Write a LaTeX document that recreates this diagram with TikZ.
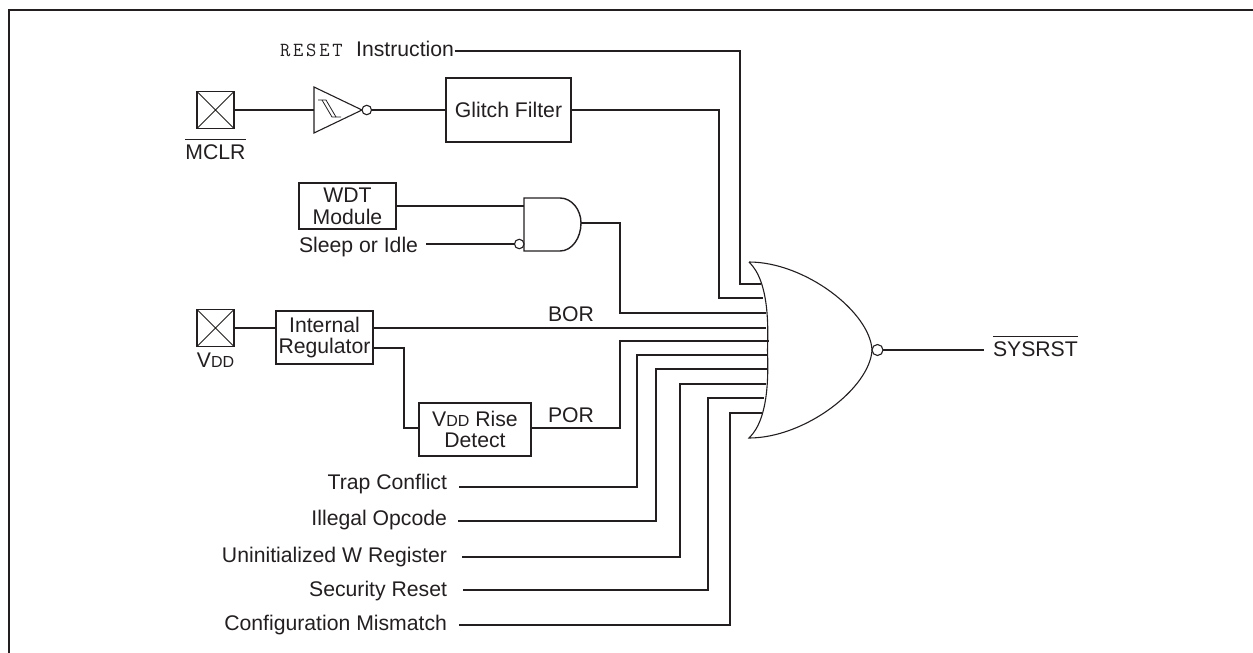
\documentclass[tikz,border=0pt]{standalone}
\usepackage{fontspec}
\setmainfont{Liberation Sans}
\newfontfamily\resetfont[LetterSpace=14]{Latin Modern Mono}
\definecolor{inkk}{HTML}{231F20}
\newcommand{\labfont}{\fontsize{21.2}{21.8}\selectfont}
\newcommand{\smallcaps}[1]{{\fontsize{16}{16}\selectfont #1}}
\newcommand{\barred}[1]{\vbox{\hrule height 1.6pt\kern 4pt\hbox{#1}}}
\tikzset{
  wire/.style={line width=1.7pt, inkk},
  gateline/.style={line width=1.1pt, inkk},
  box/.style={draw=inkk, line width=1.7pt, inner sep=0pt, outer sep=0pt, align=center, font=\labfont, text=inkk},
  lab/.style={inner sep=0pt, outer sep=0pt, font=\labfont, text=inkk},
  bubble/.style={circle, draw=inkk, line width=1.1pt, fill=white, inner sep=0pt, outer sep=0pt}
}
\begin{document}
\begin{tikzpicture}[x=1pt, y=-1pt]
\useasboundingbox (0,0) rectangle (1253,653);
\draw[line width=2.2pt, inkk] (9,653) |- (1253,10);
% pads
\foreach \nm/\yy in {mclr/110, vdd/328}{
  \node[box, minimum width=37pt, minimum height=37pt] (\nm) at (215.5,\yy) {};
  \draw[line width=0.8pt, inkk] (\nm.north west) -- (\nm.south east) (\nm.north east) -- (\nm.south west);
}
\node[lab, anchor=base] (mclrlab) at (215.5,159) {\barred{MCLR}};
\node[lab, anchor=base] (vddlab) at (215.5,367) {V\smallcaps{DD}};
% top row
\node[lab, anchor=base west] (resetlab) at (280,56) {{\resetfont\fontsize{20}{22}\selectfont RESET}};
\node[lab, anchor=base east] (instr) at (454,56) {Instruction};
\node[box, minimum width=125pt, minimum height=64pt] (glitch) at (508.5,110) {Glitch Filter};
\coordinate (invin) at (314,110);
\coordinate (invtip) at (362,110);
\draw[gateline] (invin) -- (314,87) -- (invtip) -- (314,133) -- cycle;
\draw[line width=0.8pt, inkk] (318,100) -- (326,100) -- (336,117) -- (341,117);
\draw[line width=0.8pt, inkk] (322,100) -- (332,117) -- (336,117);
\node[bubble, minimum size=9.5pt, anchor=west] (invb) at (invtip) {};
\draw[wire] (mclr.east) -- (invin);
\draw[wire] (invb.east) -- (glitch.west);
% watchdog and gate
\node[box, minimum width=97pt, minimum height=46pt] (wdt) at (347.5,206) {WDT\\Module};
\node[lab, anchor=base west] (sleep) at (299,252) {Sleep or Idle};
\coordinate (andin) at (524,206);
\coordinate (andout) at (581,223);
\coordinate (andlow) at (524,244);
\draw[line width=1.4pt, inkk] (560,198) -- (524,198) -- (524,251) -- (560,251)
  .. controls (572,251) and (581,238) .. (andout)
  .. controls (581,210) and (572,198) .. (560,198);
\node[bubble, minimum size=9.5pt, anchor=east] (andb) at (andlow) {};
\coordinate (sleepout) at (426,244);
\coordinate (wdtout) at (396,206);
\draw[wire] (wdtout) -- (andin);
\draw[wire] (sleepout) -- (andb.west);
% regulator
\node[box, minimum width=97pt, minimum height=53pt] (reg) at (324.5,337.5) {Internal\\Regulator};
\node[box, minimum width=112pt, minimum height=53pt] (rise) at (475,429.5) {V\smallcaps{DD} Rise\\Detect};
\draw[wire] (vdd.east) -- (reg.west|-vdd.east);
\node[lab, anchor=base] (borlab) at (571,321) {BOR};
\node[lab, anchor=base] (porlab) at (571,422) {POR};
% or gate
\coordinate (ortop) at (749,262);
\coordinate (orbot) at (749,438);
\coordinate (orapex) at (872,350);
\draw[gateline] (ortop) .. controls (770,282) and (768,330) .. (767.5,350)
  .. controls (768,370) and (770,418) .. (orbot)
  .. controls (805,438) and (870,388) .. (orapex)
  .. controls (870,312) and (805,262) .. (ortop);
\node[bubble, minimum size=11pt, anchor=west] (orb) at (orapex) {};
\node[lab, anchor=base west] (sysrst) at (993,356) {\barred{SYSRST}};
\coordinate (orout) at (984,350);
\draw[wire] (orb.east) -- (orout);
% inputs of the or gate
\coordinate (gin1) at (761,284);
\coordinate (gin2) at (763,298);
\coordinate (gin3) at (766,313);
\coordinate (gin4) at (766,328);
\coordinate (gin5) at (769,341);
\coordinate (gin6) at (767,355);
\coordinate (gin7) at (767,369);
\coordinate (gin8) at (766,384);
\coordinate (gin9) at (764,398);
\coordinate (gin10) at (762,413);
\coordinate (instrout) at (454.5,51);
\coordinate (regbor) at (373,328);
\coordinate (regpor) at (373,348);
\coordinate (risein) at (419,428);
\coordinate (riseout) at (531,428);
\draw[wire] (instrout) -- (740,51) |- (gin1);
\draw[wire] (glitch.east) -- (719,110) |- (gin2);
\draw[wire] (andout) -- (620,223) |- (gin3);
\draw[wire] (regbor) -- (gin4);
\draw[wire] (regpor) -- (404,348) |- (risein);
\draw[wire] (riseout) -- (620,428) |- (gin5);
\foreach \nm/\txt/\bl/\ly/\lx/\vx/\gn in {trap/Trap Conflict/489/487/459/637/6,
    opcode/Illegal Opcode/525/521/458/656/7,
    wreg/Uninitialized W Register/562/557/462/680/8,
    secur/Security Reset/596/590/463/708/9,
    config/Configuration Mismatch/630/625/459/730/10}{
  \node[lab, anchor=base east] (\nm) at (447,\bl) {\txt};
  \coordinate (\nm out) at (\lx,\ly);
  \draw[wire] (\nm out) -- (\vx,\ly) |- (gin\gn);
}
\end{tikzpicture}
\end{document}
